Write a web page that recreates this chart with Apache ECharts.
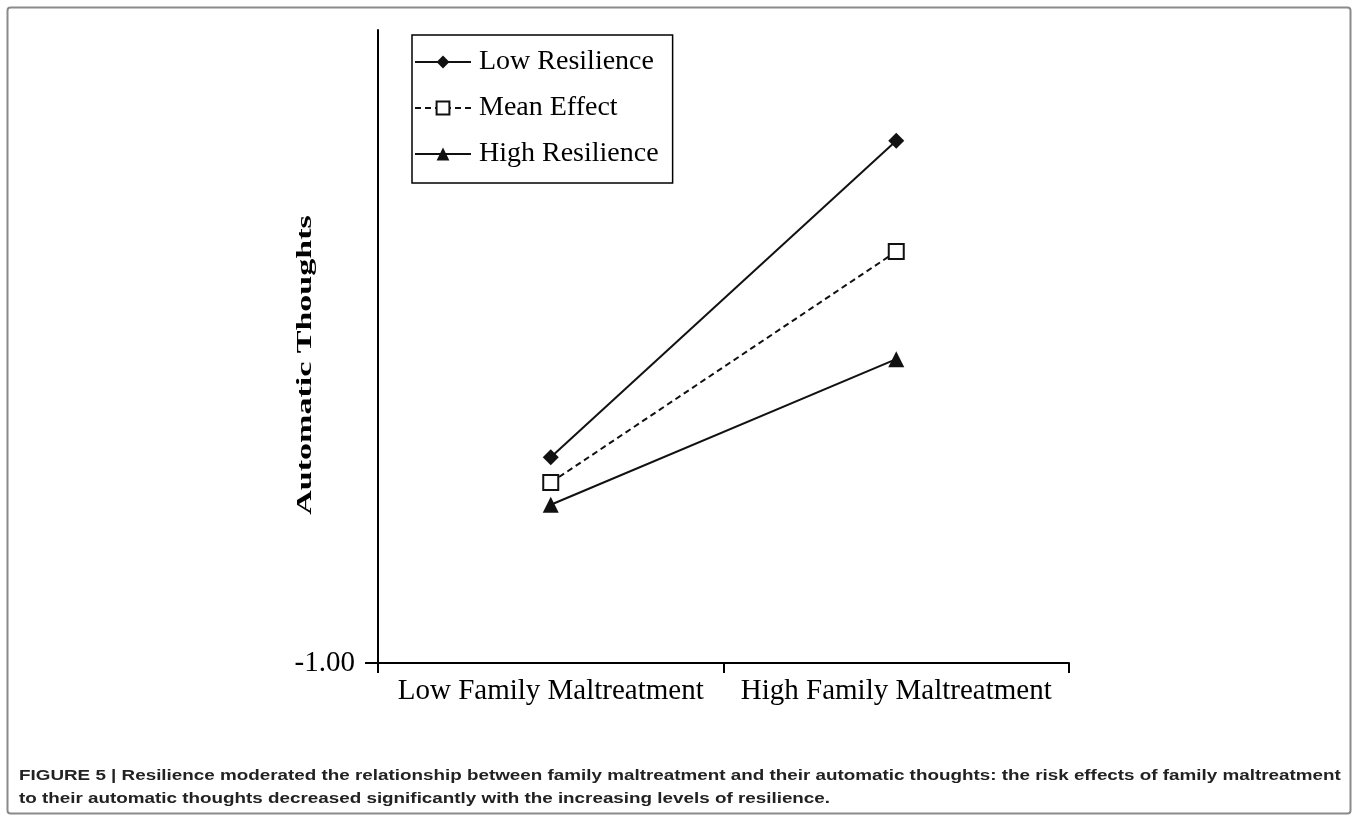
<!DOCTYPE html>
<html>
<head>
<meta charset="utf-8">
<script src="https://cdn.jsdelivr.net/npm/echarts@6/dist/echarts.min.js"></script>
<style>
  html, body { margin: 0; padding: 0; background: #fff; }
  #main { width: 1358px; height: 821px; }
</style>
</head>
<body>
<div id="main"></div>
<script>
// values (y scale: only -1.00 is labelled)
var categories = ["Low Family Maltreatment", "High Family Maltreatment"];
var lowResilience = [-0.35, 0.65];
var meanEffect = [-0.43, 0.30];
var highResilience = [-0.50, -0.04];
var yTicks = [-1];

var chartDom = document.getElementById("main");
var myChart = echarts.init(chartDom);
var serif = "Liberation Serif";

var option = {
  animation: false,
  backgroundColor: "#fff",
  grid: { left: 378, right: 289, top: 30, bottom: 158 },
  legend: {
    orient: "vertical",
    left: 412,
    top: 35,
    padding: [11, 14, 13, 2],
    itemGap: 14,
    itemWidth: 56,
    itemHeight: 16,
    borderColor: "#000",
    borderWidth: 1.5,
    textStyle: { fontFamily: serif, fontSize: 28, color: "#000", lineHeight: 32, padding: [0, 0, 0, 3] },
    data: ["Low Resilience", "Mean Effect", "High Resilience"]
  },
  xAxis: {
    type: "category",
    data: categories,
    axisLine: { onZero: false, lineStyle: { color: "#000", width: 2 } },
    axisTick: { show: true, interval: 0, length: 10, lineStyle: { color: "#000", width: 2 } },
    axisLabel: { interval: 0, fontFamily: serif, fontSize: 29, color: "#000", margin: 14 }
  },
  yAxis: {
    type: "value",
    min: -1,
    max: 1,
    interval: 2,
    splitLine: { show: false },
    axisLine: { show: true, lineStyle: { color: "#000", width: 2 } },
    axisTick: { show: true, customValues: yTicks, length: 13, lineStyle: { color: "#000", width: 2 } },
    axisLabel: {
      customValues: yTicks,
      fontFamily: serif, fontSize: 29, color: "#000", margin: 23,
      formatter: function (v) { return v.toFixed(2); }
    }
  },
  graphic: [
    {
      type: "rect",
      shape: { x: 7.5, y: 7.5, width: 1343, height: 806, r: 3 },
      style: { fill: null, stroke: "#8a8a8a", lineWidth: 2 },
      silent: true
    },
    {
      type: "text",
      x: 306,
      y: 365,
      rotation: Math.PI / 2,
      scaleX: 1.7,
      style: {
        text: "Automatic Thoughts",
        font: "bold 20px 'Liberation Serif'",
        fill: "#000",
        align: "center",
        verticalAlign: "middle"
      }
    },
    {
      type: "text",
      x: 19,
      y: 764,
      scaleX: 1.215,
      style: {
        text: "FIGURE 5 | Resilience moderated the relationship between family maltreatment and their automatic thoughts: the risk effects of family maltreatment\nto their automatic thoughts decreased significantly with the increasing levels of resilience.",
        font: "bold 15.5px 'Liberation Sans'",
        fill: "#222",
        lineHeight: 23
      }
    }
  ],
  series: [
    {
      name: "Low Resilience",
      type: "line",
      data: lowResilience,
      symbol: "diamond",
      symbolSize: 16,
      lineStyle: { color: "#111", width: 2 },
      itemStyle: { color: "#111" }
    },
    {
      name: "Mean Effect",
      type: "line",
      data: meanEffect,
      symbol: "rect",
      symbolSize: 15,
      lineStyle: { color: "#111", width: 2, type: [6, 4] },
      itemStyle: { color: "#fff", borderColor: "#111", borderWidth: 2 }
    },
    {
      name: "High Resilience",
      type: "line",
      data: highResilience,
      symbol: "triangle",
      symbolSize: 16,
      lineStyle: { color: "#111", width: 2 },
      itemStyle: { color: "#111" }
    }
  ]
};

option && myChart.setOption(option);
</script>
</body>
</html>
